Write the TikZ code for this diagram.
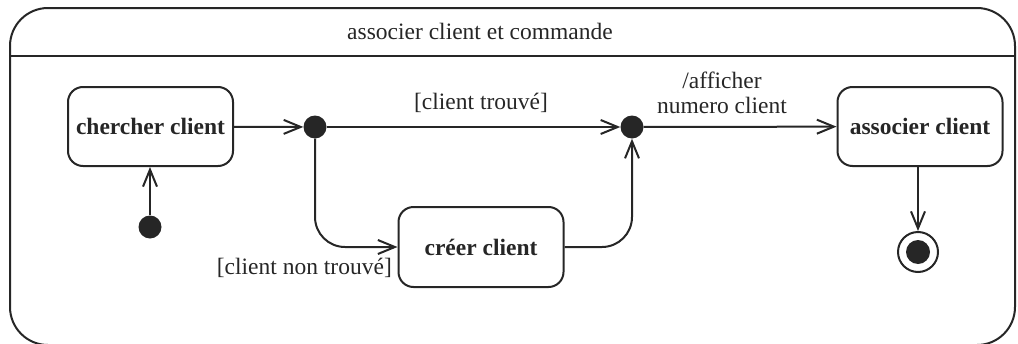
\documentclass[tikz,border=0pt]{standalone}
\usepackage{fontspec}
\setmainfont{Liberation Serif}
\usetikzlibrary{arrows.meta}
\definecolor{ink}{gray}{0.15}
\begin{document}
\begin{tikzpicture}[x=1pt,y=-1pt,
  every node/.style={text=ink,font=\fontsize{23.5}{27}\selectfont},
  line/.style={draw=ink,line width=2pt},
  arr/.style={line,-{Straight Barb[length=17pt,width=14pt,line width=2pt]}},
  statebox/.style={line,rectangle,rounded corners=15pt,minimum width=165pt,minimum height=79pt,font=\fontsize{23.5}{27}\selectfont\bfseries,inner sep=0pt},
  dot/.style={circle,fill=ink,draw=none,minimum size=23pt,inner sep=0pt},
  lbl/.style={inner sep=0pt,align=center}]
\useasboundingbox (0,0) rectangle (1018,343);
% outer composite state
\draw[line,rounded corners=38pt] (10,8) rectangle (1015,345);
\draw[line] (10,56) -- (1015,56);
\node[lbl] (title) at (480,31) {associer client et commande};
% states
\node[statebox] (cherch) at (150.5,126.5) {chercher client};
\node[statebox] (assoc) at (920,126.5) {associer client};
\node[statebox,minimum height=80pt] (creer) at (481,247) {créer client};
% pseudo states
\node[dot] (init) at (150,227) {};
\node[dot] (j1) at (315,127) {};
\node[dot] (j2) at (632,127) {};
\node[circle,draw=ink,line width=2pt,minimum size=40pt,inner sep=0pt] (final) at (918,252) {};
\node[dot,minimum size=24pt] (finalin) at (918,252) {};
% labels
\node[lbl] (l1) at (481,103) {[client trouvé]};
\node[lbl] (l2) at (722,93) {/afficher\\[-2pt]numero client};
\node[lbl,anchor=east] (l3) at (392,268) {[client non trouvé]};
% connectors
\draw[arr] (init) -- (init |- cherch.south);
\draw[arr] (cherch) -- (j1);
\draw[arr] (j1) -- (j2);
\draw[arr] (j2) -- (assoc);
\draw[arr,rounded corners=30pt] (j1) |- (creer.west);
\draw[arr,rounded corners=30pt] (creer.east) -| (j2);
\draw[arr] (assoc.south -| final) -- (final);
\end{tikzpicture}
\end{document}
